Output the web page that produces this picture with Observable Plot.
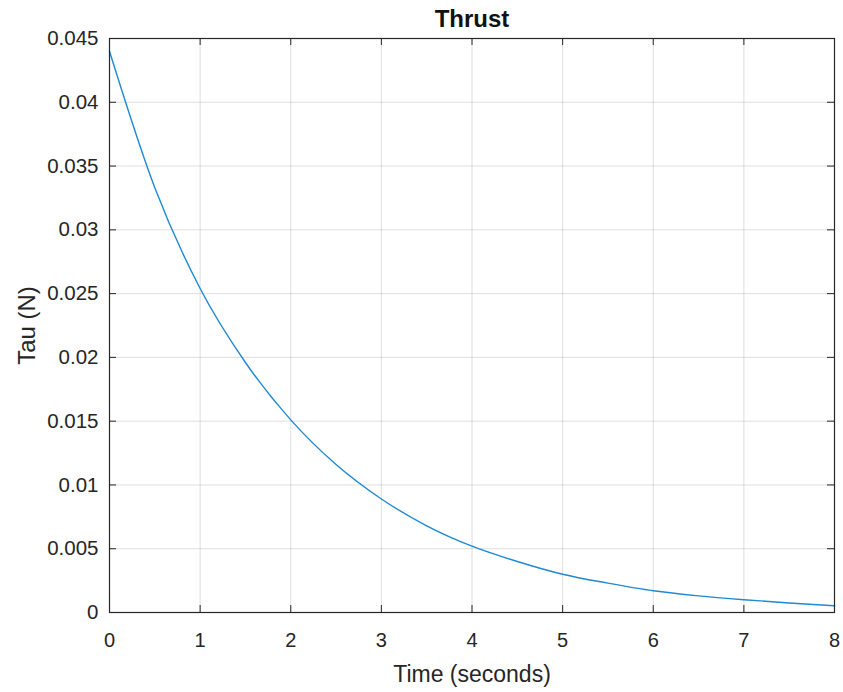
<!DOCTYPE html>
<html>
<head>
<meta charset="utf-8">
<script src="https://cdn.jsdelivr.net/npm/d3@7"></script>
<script src="https://cdn.jsdelivr.net/npm/@observablehq/plot@0.6"></script>
<style>
  html, body { margin: 0; padding: 0; background: #fff; }
</style>
</head>
<body>
<div id="chart"></div>
<script>
// Data
const times = [0, 0.5, 1, 1.5, 2, 2.5, 3, 3.5, 4, 4.5, 5, 5.5, 6, 6.5, 7, 7.5, 8];
const tau = [0.0440, 0.0333, 0.0254, 0.0196, 0.0151, 0.0116, 0.0089, 0.0068, 0.0052,
             0.0040, 0.0030, 0.0023, 0.0017, 0.0013, 0.0010, 0.00075, 0.00053];
const xTicks = [0, 1, 2, 3, 4, 5, 6, 7, 8];
const xTickLabels = ["0", "1", "2", "3", "4", "5", "6", "7", "8"];
const yTicks = [0, 0.005, 0.01, 0.015, 0.02, 0.025, 0.03, 0.035, 0.04, 0.045];
const yTickLabels = ["0", "0.005", "0.01", "0.015", "0.02", "0.025", "0.03", "0.035", "0.04", "0.045"];
const titleText = "Thrust";
const xLabel = "Time (seconds)";
const yLabel = "Tau (N)";

const rows = times.map((t, i) => ({t, v: tau[i]}));
const axisColor = "#262626";

const chart = Plot.plot({
  width: 843,
  height: 692,
  marginLeft: 109,
  marginRight: 9,
  marginTop: 38,
  marginBottom: 80,
  style: {fontFamily: "'Liberation Sans', Arial, Helvetica, sans-serif", fontSize: "20px", color: axisColor, background: "#fff"},
  x: {domain: [0, 8]},
  y: {domain: [0, 0.045]},
  marks: [
    Plot.gridX(xTicks, {stroke: axisColor, strokeOpacity: 0.15}),
    Plot.gridY(yTicks, {stroke: axisColor, strokeOpacity: 0.15}),
    Plot.axisX(xTicks, {tickSize: 0, tickPadding: 20, label: null, fontSize: 20,
      tickFormat: d => xTickLabels[xTicks.indexOf(d)]}),
    Plot.axisY(yTicks, {tickSize: 0, tickPadding: 11, label: null, fontSize: 20.5,
      tickFormat: d => yTickLabels[yTicks.indexOf(d)]}),
    Plot.tickX(xTicks, {x: d => d, insetTop: 567, stroke: axisColor}),
    Plot.tickX(xTicks, {x: d => d, insetBottom: 567, stroke: axisColor}),
    Plot.tickY(yTicks, {y: d => d, insetRight: 718, stroke: axisColor}),
    Plot.tickY(yTicks, {y: d => d, insetLeft: 718, stroke: axisColor}),
    Plot.line(rows, {x: "t", y: "v", stroke: "#1f89d3", strokeWidth: 1.4, curve: "monotone-x"}),
    Plot.frame({stroke: axisColor, strokeWidth: 1.2}),
    Plot.text([titleText], {frameAnchor: "top", dy: -19, lineAnchor: "middle", fontWeight: "bold", fontSize: 24, fill: "#111"}),
    Plot.text([xLabel], {frameAnchor: "bottom", dy: 62, lineAnchor: "middle", fontSize: 23}),
    Plot.text([yLabel], {frameAnchor: "left", dx: -82, rotate: -90, textAnchor: "middle", lineAnchor: "middle", fontSize: 24})
  ]
});
document.getElementById("chart").append(chart);
</script>
</body>
</html>
